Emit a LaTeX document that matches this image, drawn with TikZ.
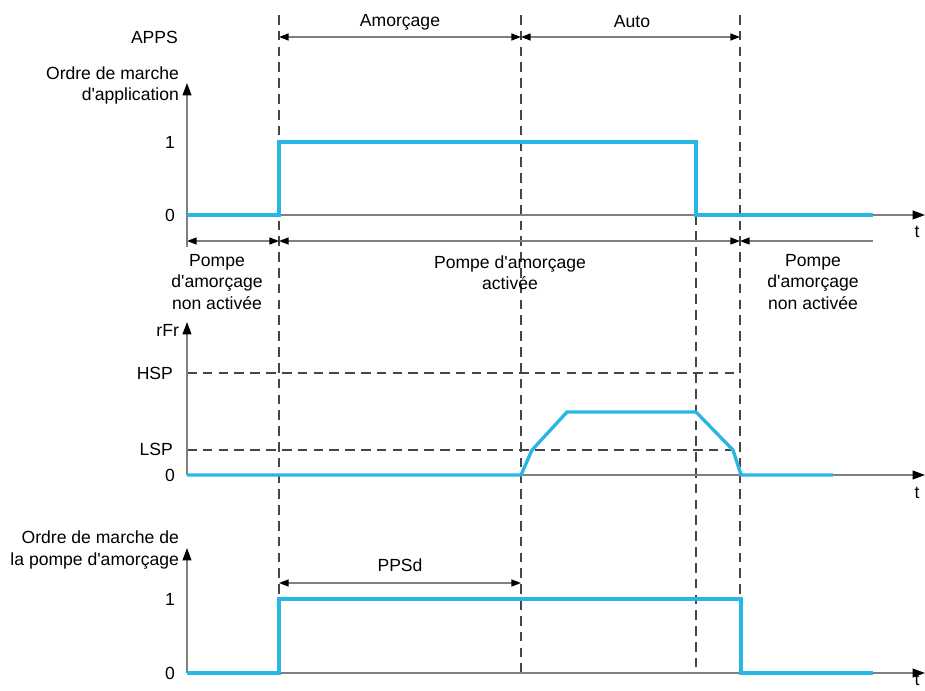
\documentclass[tikz,border=0pt]{standalone}
\usepackage{fontspec}
\setmainfont{Liberation Sans}[Ligatures=TeXOff]
\usetikzlibrary{arrows.meta,positioning}
\definecolor{sigblue}{RGB}{41,182,228}
\definecolor{axgray}{RGB}{128,128,128}
\definecolor{dashgray}{RGB}{70,70,70}

\begin{document}
\begin{tikzpicture}[x=0.02cm,y=-0.02cm,
  font=\fontsize{10}{12}\selectfont,
  axis/.style={draw=axgray, line width=0.8pt, -{Triangle[length=7pt,width=5pt,color=black]}},
  sig/.style={draw=sigblue, line width=1.9pt},
  guide/.style={draw=dashgray, line width=0.8pt, dash pattern=on 5.5pt off 3.5pt},
  dimline/.style={draw=axgray, line width=0.8pt},
  lbl/.style={inner sep=1pt, align=center}]
  \useasboundingbox (0,0) rectangle (925,690);
  % Guide lines
  \draw[guide] (279,15) -- (279,673);
  \draw[guide] (521,15) -- (521,673);
  \draw[guide] (696,215) -- (696,668);
  \draw[guide] (740,15) -- (740,599);
  \draw[guide] (187,373) -- (740,373);
  \draw[guide] (187,450) -- (733,450);
  % Axes
  \draw[axis] (187,215) -- (187,83);
  \draw[axis] (187,215) -- (925,215);
  \draw[dimline] (187,215) -- (187,247);
  \draw[axis] (187,475) -- (187,322);
  \draw[axis] (187,475) -- (925,475);
  \draw[axis] (187,673) -- (187,548);
  \draw[axis] (187,673) -- (925,673);
  % Signals
  \draw[sig] (187,215) -- (279,215) -- (279,142) -- (696,142) -- (696,215) -- (873,215);
  \draw[sig] (187,475) -- (521,475) -- (532,450) -- (567,412) -- (696,412) -- (733,450) -- (741,475) -- (833,475);
  \draw[sig] (187,673) -- (279,673) -- (279,599) -- (741,599) -- (741,673) -- (873,673);
  % Dimension arrows
  \tikzset{dt/.tip={Triangle[length=5.5pt,width=4pt,color=black]}}
  \draw[dimline, dt-dt] (279,37) -- (521,37);
  \draw[dimline, dt-dt] (521,37) -- (740,37);
  \draw[dimline, dt-dt] (187,241) -- (279,241);
  \draw[dimline, dt-dt] (279,241) -- (740,241);
  \draw[dimline, dt-] (740,241) -- (873,241);
  \draw[dimline, dt-dt] (279,583) -- (521,583);
  % Labels
  \node[lbl, anchor=east] (apps) at (180,37) {APPS};
  \node[lbl] (amorcage) at (400,22) {Amorçage};
  \node[lbl] (auto) at (632,22) {Auto};
  \node[lbl, anchor=east, align=right] (ordreapp) at (181,85) {Ordre de marche\\d'application};
  \node[lbl, anchor=east] (un1) at (177,142) {1};
  \node[lbl, anchor=east] (zero1) at (177,215) {0};
  \node[lbl] (t1) at (917,232) {t};
  \node[lbl] (pnon1) at (217,282) {Pompe\\d'amorçage\\non activée};
  \node[lbl] (pact) at (510,273) {Pompe d'amorçage\\activée};
  \node[lbl] (pnon2) at (813,282) {Pompe\\d'amorçage\\non activée};
  \node[lbl, anchor=east] (rfr) at (181,330) {rFr};
  \node[lbl, anchor=east] (hsp) at (175,373) {HSP};
  \node[lbl, anchor=east] (lsp) at (175,449) {LSP};
  \node[lbl, anchor=east] (zero2) at (177,475) {0};
  \node[lbl] (t2) at (917,493) {t};
  \node[lbl, anchor=east, align=right] (ordrepompe) at (181,550) {Ordre de marche de\\la pompe d'amorçage};
  \node[lbl] (ppsd) at (400,565) {PPSd};
  \node[lbl, anchor=east] (un3) at (177,599) {1};
  \node[lbl, anchor=east] (zero3) at (177,673) {0};
  \node[lbl] (t3) at (917,680) {t};
\end{tikzpicture}
\end{document}
